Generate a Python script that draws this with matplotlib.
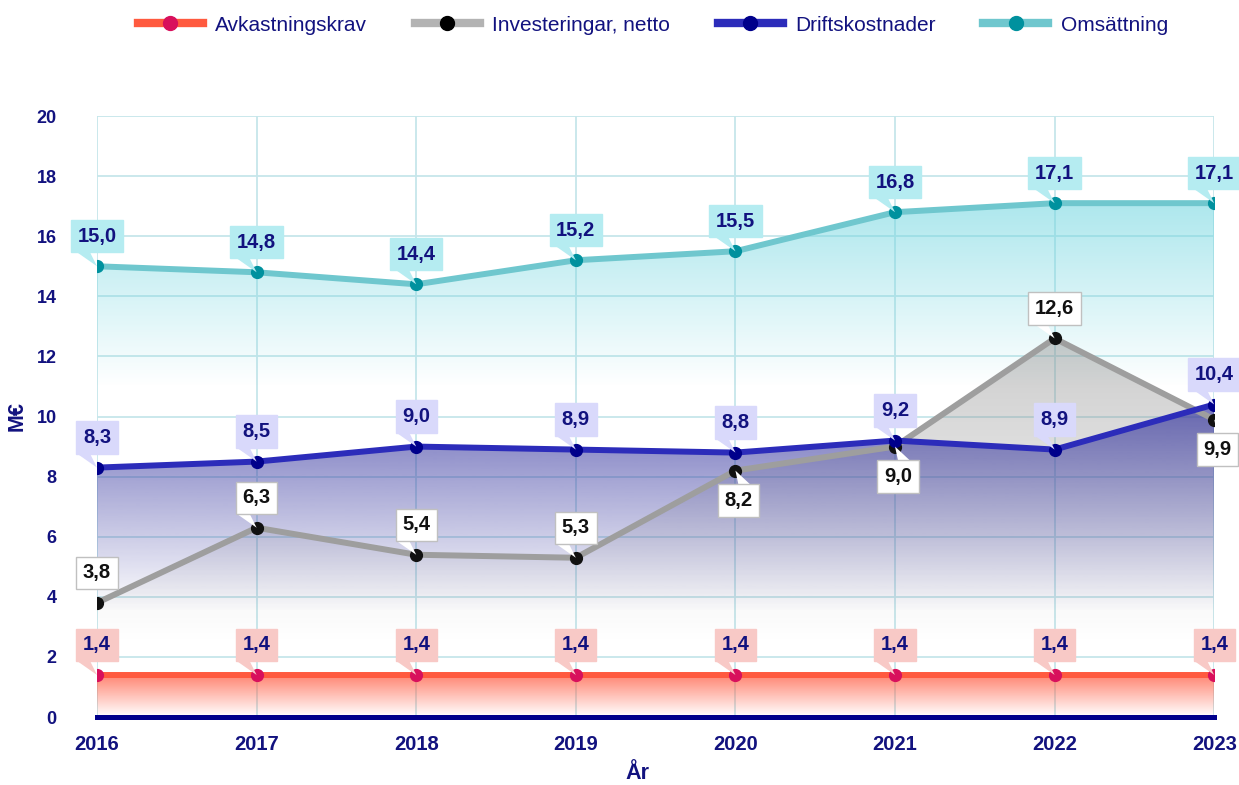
import matplotlib.pyplot as plt
import matplotlib.transforms as mtransforms
from matplotlib.patches import Polygon
from matplotlib.lines import Line2D
import numpy as np

years = [2016, 2017, 2018, 2019, 2020, 2021, 2022, 2023]
avkastningskrav = [1.4, 1.4, 1.4, 1.4, 1.4, 1.4, 1.4, 1.4]
investeringar = [3.8, 6.3, 5.4, 5.3, 8.2, 9.0, 12.6, 9.9]
driftskostnader = [8.3, 8.5, 9.0, 8.9, 8.8, 9.2, 8.9, 10.4]
omsattning = [15.0, 14.8, 14.4, 15.2, 15.5, 16.8, 17.1, 17.1]
# which investment labels sit below their point
inv_below = [False, False, False, False, True, True, False, True]

NAVY = '#12127f'
plt.rcParams['font.family'] = ['Liberation Sans', 'DejaVu Sans']

fig = plt.figure(figsize=(12.39, 7.85), dpi=100)
ax = fig.add_axes([0.0783, 0.0866, 0.9017, 0.7656])
ax.set_xlim(years[0], years[-1])
ax.set_ylim(0, 20)


def gradient_fill(x, y, rgb, a_top, a_bot, y_top, y_bot, z):
    poly = ax.fill_between(x, y, 0, color='none', lw=0, zorder=z)
    ys = np.linspace(20, 0, 400)
    alpha = np.interp(ys, [y_bot, y_top], [a_bot, a_top])
    img = np.zeros((400, 1, 4))
    img[:, 0, :3] = rgb
    img[:, 0, 3] = alpha
    im = ax.imshow(img, extent=[x[0], x[-1], 0, 20], aspect='auto',
                   zorder=z, interpolation='bilinear')
    im.set_clip_path(poly.get_paths()[0], transform=ax.transData)


gradient_fill(years, omsattning, (0.45, 0.84, 0.88), 0.6, 0.0, 17.3, 11.0, 1)
gradient_fill(years, investeringar, (0.55, 0.55, 0.55), 0.45, 0.0, 12.6, 2.5, 2)
gradient_fill(years, driftskostnader, (0.2, 0.2, 0.62), 0.65, 0.0, 10.0, 3.5, 3)
gradient_fill(years, avkastningskrav, (1.0, 0.35, 0.25), 0.75, 0.0, 1.4, 0.0, 4)

series = [
    (avkastningskrav, '#ff5a3f', '#d8105c', 'Avkastningskrav'),
    (investeringar, '#9e9e9e', '#111111', 'Investeringar, netto'),
    (driftskostnader, '#2c2cba', '#00008b', 'Driftskostnader'),
    (omsattning, '#6fc7ce', '#00919e', 'Omsättning'),
]
for vals, lc, mc, name in series:
    ax.plot(years, vals, color=lc, lw=4.3, zorder=6, solid_capstyle='butt')
    ax.plot(years, vals, 'o', color=mc, ms=8.5, zorder=7)


def label(x, y, txt, fc, ec, tc, below=False):
    # pixel offsets from the point (y up)
    gap = 13
    if below:
        cx, cy = 3, -(gap + 17)
        tri = [(0, 0), (3, -gap - 1), (15, -gap - 1)]
    else:
        cx, cy = 0, gap + 17
        tri = [(0, 0), (-20, gap + 1), (-7, gap + 1)]
    trans = fig.dpi_scale_trans + mtransforms.ScaledTranslation(x, y, ax.transData)
    ax.add_patch(Polygon(np.array(tri) / 100.0, closed=True, fc=fc, ec='none',
                         transform=trans, zorder=9, clip_on=False))
    ax.annotate(txt, xy=(x, y), xytext=(cx * 0.72, cy * 0.72), textcoords='offset points',
                ha='center', va='center', fontsize=14.5, fontweight='bold', color=tc,
                zorder=10, annotation_clip=False,
                bbox=dict(boxstyle='square,pad=0.33', fc=fc, ec=ec, lw=1))


fmt = lambda v: f'{v:.1f}'.replace('.', ',')
for i, yr in enumerate(years):
    label(yr, omsattning[i], fmt(omsattning[i]), '#b5ecf1', '#b5ecf1', NAVY)
    label(yr, driftskostnader[i], fmt(driftskostnader[i]), '#d9d9fb', '#d9d9fb', NAVY)
    label(yr, investeringar[i], fmt(investeringar[i]), 'white', '#c0c0c0', '#111111',
          below=inv_below[i])
    label(yr, avkastningskrav[i], fmt(avkastningskrav[i]), '#f8c9c6', '#f8c9c6', NAVY)

ax.set_xticks(years)
ax.set_yticks(range(0, 21, 2))
ax.grid(color='#c6e6ea', lw=1.3, zorder=0)
ax.set_axisbelow(True)
for s in ['left', 'right', 'top']:
    ax.spines[s].set_visible(False)
ax.spines['bottom'].set_color('#00008b')
ax.spines['bottom'].set_linewidth(3.6)
ax.spines['bottom'].set_zorder(8)
ax.tick_params(length=0, labelcolor=NAVY)
ax.tick_params(axis='x', labelsize=14.5, pad=13)
ax.tick_params(axis='y', labelsize=13, pad=29)
for t in ax.get_xticklabels() + ax.get_yticklabels():
    t.set_fontweight('bold')
ax.set_xlabel('År', fontsize=15.5, fontweight='bold', color=NAVY)
ax.xaxis.set_label_coords(0.484, -0.077)
ax.set_ylabel('M€', fontsize=15.5, fontweight='bold', color=NAVY)
ax.yaxis.set_label_coords(-0.062, 0.5)

handles = [Line2D([], [], color=lc, lw=6, marker='o', ms=10, mfc=mc, mec=mc)
           for _, lc, mc, _ in series]
handles[1].set_color('#b3b3b3')
handles[1].set_markerfacecolor('#000000')
handles[1].set_markeredgecolor('#000000')
fig.legend(handles, [s[3] for s in series], loc='center',
           bbox_to_anchor=(0.527, 0.968), ncol=4, frameon=False,
           handlelength=3.1, handletextpad=0.6, columnspacing=2.3,
           prop={'family': 'Liberation Sans', 'size': 15},
           labelcolor=NAVY)

fig.savefig('out.png', dpi=100)
